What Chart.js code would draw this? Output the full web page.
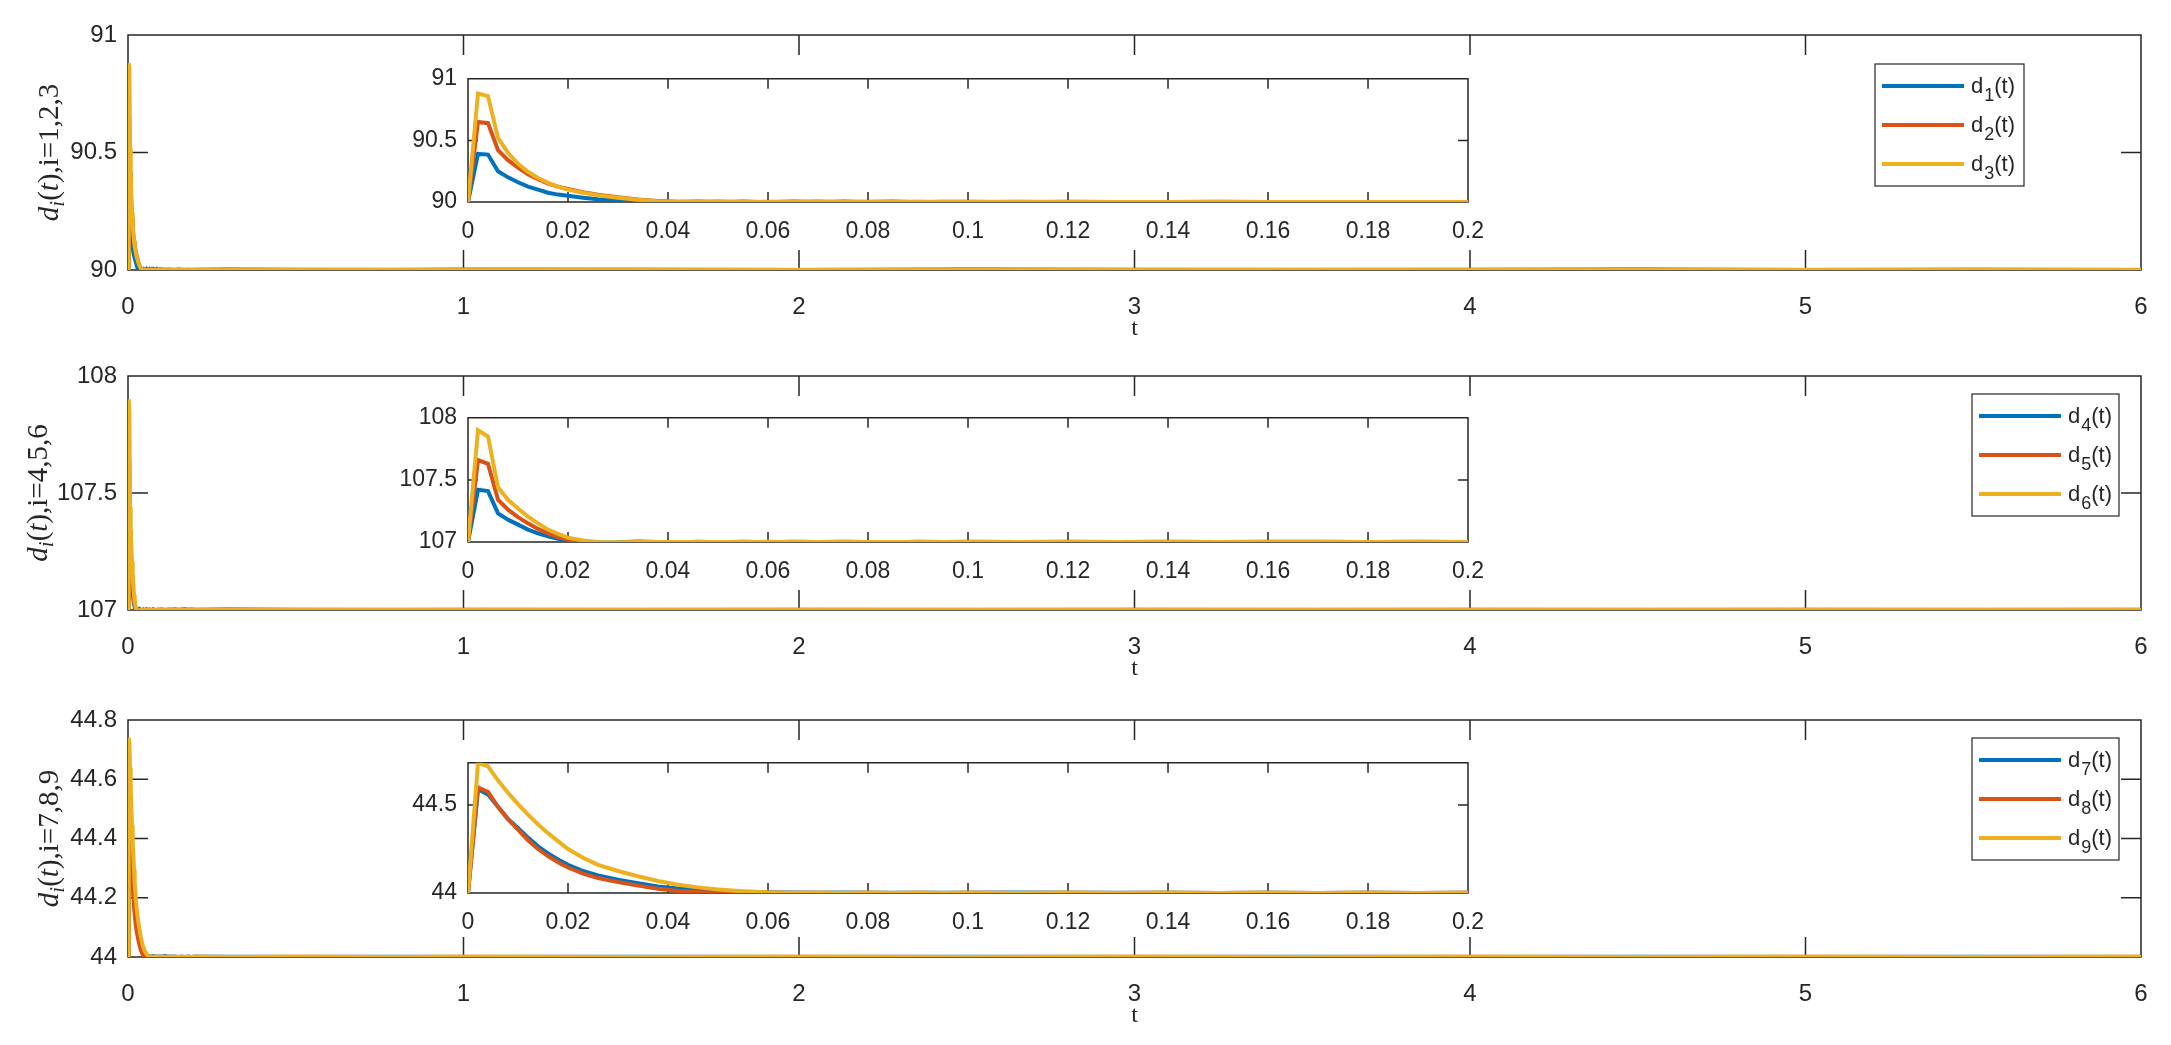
<!DOCTYPE html>
<html>
<head>
<meta charset="utf-8">
<script src="https://cdn.jsdelivr.net/npm/chart.js@4.4.1/dist/chart.umd.min.js"></script>
<style>
  body { margin: 0; background: #fff; width: 2171px; height: 1045px; position: relative; overflow: hidden; }
  canvas { position: absolute; }
</style>
</head>
<body>
<canvas id="main1" width="2171" height="340" style="left:0;top:0"></canvas>
<canvas id="main2" width="2171" height="339" style="left:0;top:341px"></canvas>
<canvas id="main3" width="2171" height="342" style="left:0;top:685px"></canvas>
<canvas id="inset1" width="1132" height="193" style="left:368px;top:54px"></canvas>
<canvas id="inset2" width="1132" height="194" style="left:368px;top:393px"></canvas>
<canvas id="inset3" width="1132" height="200" style="left:368px;top:738px"></canvas>
<script>
// sample times (s)
const tData = [
  0, 0.002, 0.004, 0.006, 0.008, 0.010, 0.012, 0.014, 0.016, 0.018, 0.020,
  0.023, 0.026, 0.030, 0.034, 0.038, 0.042, 0.046, 0.050,
  0.055, 0.060, 0.065, 0.070, 0.075, 0.080, 0.085, 0.090, 0.095, 0.100,
  0.110, 0.120, 0.130, 0.140, 0.150, 0.160, 0.170, 0.180, 0.190, 0.200,
  0.3, 0.5, 0.8, 1, 1.5, 2, 2.5, 3, 3.5, 4, 4.5, 5, 5.5, 6
];

const d1 = [
  90, 90.39, 90.385, 90.25, 90.20, 90.16, 90.125, 90.10, 90.075, 90.06, 90.05,
  90.035, 90.022, 90.012, 90.006, 90.003, 90.001, 90.004, 89.998,
  90.005, 89.997, 90.004, 89.998, 90.005, 89.999, 90.004, 89.998, 90.003, 90.002,
  89.998, 90.002, 90.001, 90.000, 90.002, 90.001, 90.000, 90.001, 90.000, 90.001,
  90.002, 90.001, 90.000, 90.002, 90.001, 90.000, 90.002, 90.001, 90.000, 90.001, 90.002, 90.000, 90.001, 90.000
];
const d2 = [
  90, 90.65, 90.64, 90.42, 90.34, 90.28, 90.225, 90.185, 90.15, 90.125, 90.105,
  90.08, 90.06, 90.038, 90.02, 90.008, 90.003, 90.001, 90.004,
  89.998, 90.003, 89.999, 90.004, 89.997, 90.003, 90.000, 90.002, 89.999, 90.001,
  90.002, 90.000, 90.001, 90.000, 90.001, 90.000, 90.001, 90.000, 90.001, 90.000,
  90.001, 90.000, 90.001, 90.000, 90.001, 90.000, 90.001, 90.000, 90.001, 90.000, 90.001, 90.000, 90.001, 90.000
];
const d3 = [
  90, 90.88, 90.86, 90.52, 90.40, 90.31, 90.245, 90.195, 90.155, 90.125, 90.10,
  90.075, 90.055, 90.035, 90.018, 90.007, 90.002, 90.000, 90.002,
  90.000, 90.001, 90.000, 90.002, 90.000, 90.001, 90.000, 90.001, 90.000, 90.001,
  90.000, 90.001, 90.000, 90.001, 90.000, 90.001, 90.000, 90.001, 90.000, 90.001,
  90.000, 90.001, 90.000, 90.001, 90.000, 90.001, 90.000, 90.001, 90.000, 90.001, 90.000, 90.001, 90.000, 90.001
];

const d4 = [
  107, 107.42, 107.41, 107.23, 107.18, 107.14, 107.10, 107.07, 107.045, 107.025, 107.012,
  107.002, 106.995, 106.997, 107.004, 107.000, 106.996, 107.002, 106.998,
  107.003, 106.997, 107.002, 106.999, 107.003, 107.000, 106.998, 107.002, 107.000, 107.003,
  106.999, 107.002, 107.001, 107.003, 107.000, 107.002, 107.003, 107.001, 107.002, 107.001,
  107.002, 107.001, 107.000, 107.001, 107.000, 107.001, 107.000, 107.001, 107.000, 107.001, 107.000, 107.001, 107.000, 107.001
];
const d5 = [
  107, 107.66, 107.63, 107.34, 107.26, 107.20, 107.15, 107.105, 107.07, 107.04, 107.02,
  107.003, 106.992, 106.99, 106.995, 106.999, 107.000, 107.001, 106.999,
  107.001, 107.000, 107.001, 106.999, 107.001, 107.000, 107.001, 107.000, 107.001, 107.000,
  107.001, 107.000, 107.001, 107.000, 107.001, 107.000, 107.001, 107.000, 107.001, 107.000,
  107.001, 107.000, 107.001, 107.000, 107.001, 107.000, 107.001, 107.000, 107.001, 107.000, 107.001, 107.000, 107.001, 107.000
];
const d6 = [
  107, 107.90, 107.85, 107.44, 107.34, 107.27, 107.205, 107.15, 107.10, 107.065, 107.035,
  107.012, 107.000, 106.997, 106.999, 107.000, 107.001, 107.000, 107.001,
  107.000, 107.002, 107.000, 107.001, 107.000, 107.001, 107.000, 107.001, 107.000, 107.001,
  107.000, 107.001, 107.000, 107.001, 107.000, 107.001, 107.000, 107.001, 107.000, 107.001,
  107.000, 107.001, 107.000, 107.001, 107.000, 107.001, 107.000, 107.001, 107.000, 107.001, 107.000, 107.001, 107.000, 107.001
];

const d7 = [
  44, 44.59, 44.56, 44.49, 44.42, 44.37, 44.315, 44.265, 44.225, 44.19, 44.16,
  44.125, 44.10, 44.075, 44.055, 44.037, 44.026, 44.018, 44.012,
  44.007, 44.004, 44.003, 44.002, 44.003, 44.001, 44.002, 44.001, 44.002, 44.001,
  44.003, 44.001, 44.002, 44.001, 44.000, 44.001, 44.000, 44.001, 44.000, 44.001,
  44.001, 44.000, 44.001, 44.000, 44.001, 44.000, 44.001, 44.000, 44.001, 44.000, 44.001, 44.000, 44.001, 44.000
];
const d8 = [
  44, 44.60, 44.575, 44.49, 44.42, 44.36, 44.30, 44.25, 44.21, 44.175, 44.145,
  44.11, 44.085, 44.062, 44.042, 44.024, 44.012, 44.005, 44.002,
  44.000, 44.001, 44.000, 44.001, 44.000, 44.001, 44.000, 44.001, 44.000, 44.001,
  44.000, 44.001, 44.000, 44.001, 44.000, 44.001, 44.000, 44.001, 44.000, 44.001,
  44.000, 44.001, 44.000, 44.001, 44.000, 44.001, 44.000, 44.001, 44.000, 44.001, 44.000, 44.001, 44.000, 44.001
];
const d9 = [
  44, 44.74, 44.72, 44.64, 44.57, 44.505, 44.445, 44.39, 44.34, 44.295, 44.25,
  44.20, 44.16, 44.125, 44.095, 44.068, 44.047, 44.032, 44.02,
  44.01, 44.004, 44.002, 44.001, 44.000, 44.001, 44.000, 44.001, 44.000, 44.001,
  44.000, 44.001, 44.000, 44.001, 44.000, 44.001, 44.000, 44.001, 44.000, 44.001,
  44.000, 44.001, 44.000, 44.001, 44.000, 44.001, 44.000, 44.001, 44.000, 44.001, 44.000, 44.001, 44.000, 44.001
];

// tick labels
const mainXTicks = [0, 1, 2, 3, 4, 5, 6];
const insetXTicks = [0, 0.02, 0.04, 0.06, 0.08, 0.1, 0.12, 0.14, 0.16, 0.18, 0.2];
const yTicks1 = [90, 90.5, 91];
const yTicks2 = [107, 107.5, 108];
const yTicks3 = [44, 44.2, 44.4, 44.6, 44.8];
const insetYTicks3 = [44, 44.5];
const legendSubs = [['1', '2', '3'], ['4', '5', '6'], ['7', '8', '9']];
const yLabelIdx = ['1,2,3', '4,5,6', '7,8,9'];

const colors = ['#0072BD', '#D95319', '#EDB120'];
const INK = '#262626';
const SANS = "'Liberation Sans', Arial, Helvetica, sans-serif";
const SERIF = "'Liberation Serif', 'Times New Roman', serif";
const LW = 4;

// box around the axes with inward ticks on all four sides (MATLAB look)
const boxTicks = {
  id: 'boxTicks',
  beforeDatasetsDraw(chart, args, o) {
    const { ctx, chartArea: a, scales } = chart;
    ctx.save();
    if (o.fill) {
      ctx.fillStyle = o.fill;
      ctx.fillRect(a.left, a.top, a.right - a.left, a.bottom - a.top);
    }
    ctx.strokeStyle = INK;
    ctx.lineWidth = 1.5;
    ctx.beginPath();
    scales.x.ticks.forEach(t => {
      const px = scales.x.getPixelForValue(t.value);
      ctx.moveTo(px, a.bottom); ctx.lineTo(px, a.bottom - o.len);
      ctx.moveTo(px, a.top); ctx.lineTo(px, a.top + o.len);
    });
    scales.y.ticks.forEach(t => {
      const py = scales.y.getPixelForValue(t.value);
      ctx.moveTo(a.left, py); ctx.lineTo(a.left + o.len, py);
      ctx.moveTo(a.right, py); ctx.lineTo(a.right - o.len, py);
    });
    ctx.rect(a.left, a.top, a.right - a.left, a.bottom - a.top);
    ctx.stroke();
    ctx.restore();
  }
};

// rotated y label: d_i(t),i=...
const yLabel = {
  id: 'yLabel',
  afterDraw(chart, args, o) {
    const { ctx, chartArea: a } = chart;
    const parts = [
      ['d', 'italic 29px ' + SERIF, 0],
      ['i', 'italic 21px ' + SERIF, 6],
      ['(', '29px ' + SERIF, 0],
      ['t', 'italic 29px ' + SERIF, 0],
      [')', '29px ' + SERIF, 0],
      [',i=' + o.idx, '29px ' + SERIF, 0]
    ];
    ctx.save();
    let total = 0;
    parts.forEach(p => { ctx.font = p[1]; total += ctx.measureText(p[0]).width; });
    ctx.translate(o.x, (a.top + a.bottom) / 2);
    ctx.rotate(-Math.PI / 2);
    ctx.fillStyle = INK;
    ctx.textBaseline = 'alphabetic';
    let cx = -total / 2;
    parts.forEach(p => {
      ctx.font = p[1];
      ctx.fillText(p[0], cx, p[2]);
      cx += ctx.measureText(p[0]).width;
    });
    ctx.restore();
  }
};

// framed legend inside the axes
const boxLegend = {
  id: 'boxLegend',
  afterDraw(chart, args, o) {
    const { ctx } = chart;
    ctx.save();
    ctx.fillStyle = '#fff';
    ctx.fillRect(o.x, o.y, o.w, o.h);
    ctx.strokeStyle = INK;
    ctx.lineWidth = 1.2;
    ctx.strokeRect(o.x, o.y, o.w, o.h);
    chart.data.datasets.forEach((ds, k) => {
      const ly = o.y + o.rows[k];
      ctx.strokeStyle = ds.borderColor;
      ctx.lineWidth = LW;
      ctx.beginPath();
      ctx.moveTo(o.x + 7, ly);
      ctx.lineTo(o.x + 89, ly);
      ctx.stroke();
      let tx = o.x + 96;
      ctx.fillStyle = INK;
      ctx.textBaseline = 'alphabetic';
      ctx.font = '22px ' + SANS;
      ctx.fillText('d', tx, ly + 7);
      tx += ctx.measureText('d').width + 1;
      ctx.font = '18px ' + SANS;
      ctx.fillText(o.subs[k], tx, ly + 15);
      tx += ctx.measureText(o.subs[k]).width;
      ctx.font = '22px ' + SANS;
      ctx.fillText('(t)', tx, ly + 7);
    });
    ctx.restore();
  }
};

function makeDatasets(series, subs) {
  return series.map((vals, k) => ({
    label: 'd_' + subs[k] + '(t)',
    data: tData.map((t, i) => ({ x: t, y: vals[i] })),
    borderColor: colors[k],
    borderWidth: LW,
    pointRadius: 0,
    tension: 0,
    fill: false,
    order: 3 - k
  }));
}

function axis(min, max, ticks, fixed, pad, size) {
  return {
    type: 'linear', min: min, max: max,
    afterBuildTicks: s => { s.ticks = ticks.map(v => ({ value: v })); },
    afterFit: fixed,
    grid: { display: false, drawTicks: false },
    border: { display: false },
    ticks: {
      font: { family: SANS, size: size }, color: INK, padding: pad,
      autoSkip: false, maxRotation: 0, callback: v => String(v)
    }
  };
}

function makeMain(id, series, k, yMin, yMax, yTicks, legendPos, labelX) {
  const xScale = axis(0, 6, mainXTicks, s => { s.height = 70; }, 23, 24);
  xScale.title = { display: true, text: 't', color: INK, font: { family: SERIF, size: 24, lineHeight: 1 }, padding: { top: 0, bottom: -1 } };
  return new Chart(document.getElementById(id), {
    type: 'line',
    data: { datasets: makeDatasets(series, legendSubs[k]) },
    options: {
      responsive: false, animation: false, devicePixelRatio: 1,
      layout: { padding: { left: 0, right: 30, top: 35, bottom: 0 } },
      plugins: {
        legend: { display: false }, tooltip: { enabled: false },
        boxTicks: { len: 20 },
        yLabel: { x: labelX, idx: yLabelIdx[k] },
        boxLegend: Object.assign({ subs: legendSubs[k], rows: [22, 61, 100] }, legendPos)
      },
      scales: {
        x: xScale,
        y: axis(yMin, yMax, yTicks, s => { s.width = 128; }, 11, 24)
      }
    },
    plugins: [boxTicks, yLabel, boxLegend]
  });
}

function makeInset(id, series, k, yMin, yMax, yTicks) {
  return new Chart(document.getElementById(id), {
    type: 'line',
    data: { datasets: makeDatasets(series, legendSubs[k]) },
    options: {
      responsive: false, animation: false, devicePixelRatio: 1,
      layout: { padding: { left: 0, right: 30, top: 15, bottom: 0 } },
      plugins: {
        legend: { display: false }, tooltip: { enabled: false },
        boxTicks: { len: 10, fill: '#fff' }
      },
      scales: {
        x: axis(0, 0.2, insetXTicks, s => { s.height = 45; }, 16, 23),
        y: axis(yMin, yMax, yTicks, s => { s.width = 100; }, 11, 23)
      }
    },
    plugins: [boxTicks]
  });
}

makeMain('main1', [d1, d2, d3], 0, 90, 91, yTicks1, { x: 1875, y: 64, w: 149, h: 122 }, 58);
makeMain('main2', [d4, d5, d6], 1, 107, 108, yTicks2, { x: 1972, y: 53, w: 147, h: 122 }, 47);
makeMain('main3', [d7, d8, d9], 2, 44, 44.8, yTicks3, { x: 1972, y: 53, w: 147, h: 122 }, 58);
makeInset('inset1', [d1, d2, d3], 0, 90, 91, yTicks1);
makeInset('inset2', [d4, d5, d6], 1, 107, 108, yTicks2);
makeInset('inset3', [d7, d8, d9], 2, 44, 44.74, insetYTicks3);
</script>
</body>
</html>
